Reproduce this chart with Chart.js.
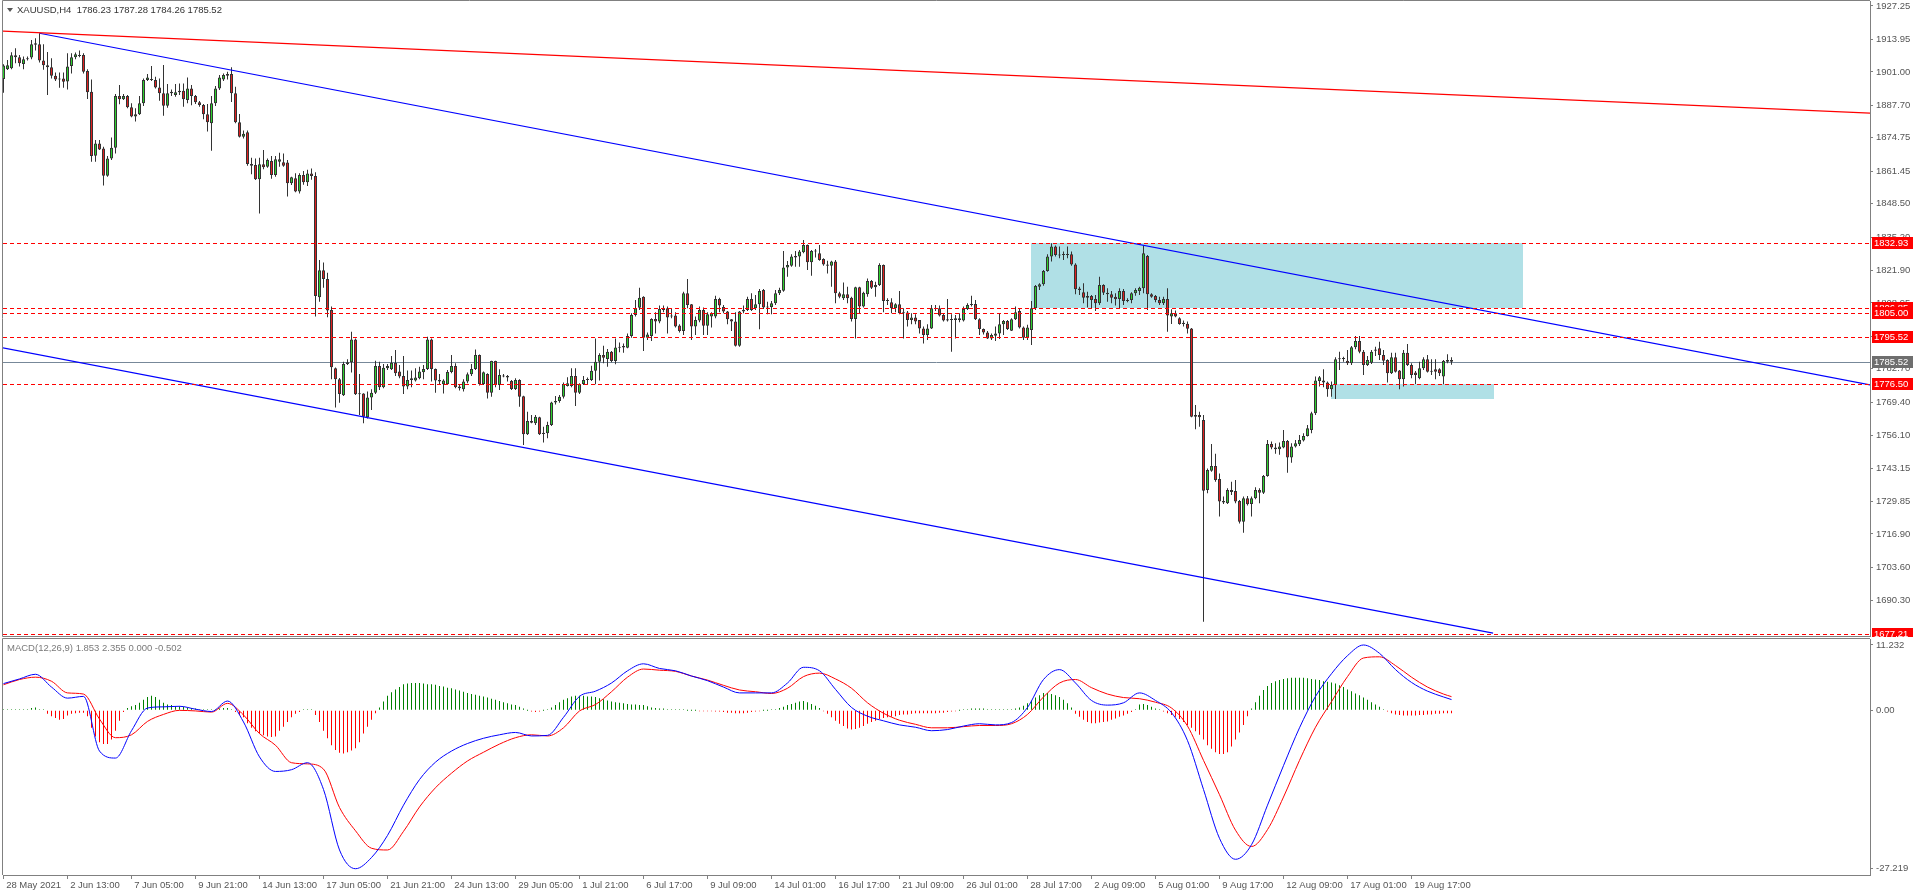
<!DOCTYPE html>
<html lang="en">
<head>
<meta charset="UTF-8">
<title>XAUUSD,H4</title>
<script src="https://cdn.jsdelivr.net/npm/chart.js"></script>
<style>
    body { margin: 0; background: #ffffff; width: 1916px; height: 896px; overflow: hidden; }
    canvas { position: absolute; left: 0; }
    #priceChart { top: 0; }
    #macdChart { top: 637px; }
</style>
</head>
<body>
<canvas id="priceChart" width="1916" height="637"></canvas>
<canvas id="macdChart" width="1916" height="259"></canvas>
<script>
// ---- data ----
const timeLabels = ['28 May 2021', '2 Jun 13:00', '7 Jun 05:00', '9 Jun 21:00', '14 Jun 13:00', '17 Jun 05:00',
    '21 Jun 21:00', '24 Jun 13:00', '29 Jun 05:00', '1 Jul 21:00', '6 Jul 17:00', '9 Jul 09:00', '14 Jul 01:00',
    '16 Jul 17:00', '21 Jul 09:00', '26 Jul 01:00', '28 Jul 17:00', '2 Aug 09:00', '5 Aug 01:00', '9 Aug 17:00',
    '12 Aug 09:00', '17 Aug 01:00', '19 Aug 17:00'];
const labelEvery = 16; // bars between time labels

const priceTicks = [1927.25, 1913.95, 1901.00, 1887.70, 1874.75, 1861.45, 1848.50, 1835.20, 1821.90, 1808.95,
    1795.65, 1782.70, 1769.40, 1756.10, 1743.15, 1729.85, 1716.90, 1703.60, 1690.30];
const macdTicks = [11.232, 0, -27.219];

// H4 candles: [open, high, low, close]
const ohlc = [
    [1898.2,1904.0,1892.7,1903.5],[1902.0,1905.7,1901.7,1903.6],[1902.4,1908.8,1902.0,1907.6],[1907.6,1910.4,1904.4,1906.8],[1906.8,1907.7,1903.1,1904.4],[1904.1,1907.1,1902.0,1906.0],
    [1906.0,1907.1,1905.5,1906.4],[1906.7,1913.7,1906.0,1912.0],[1911.8,1914.4,1909.5,1912.4],[1912.0,1916.4,1904.7,1905.5],[1905.5,1912.0,1901.8,1903.6],[1903.6,1908.9,1891.8,1902.8],
    [1902.8,1906.4,1898.4,1899.5],[1899.5,1900.8,1897.4,1898.0],[1898.0,1900.8,1894.7,1898.4],[1898.4,1900.8,1894.7,1897.1],[1897.2,1908.4,1894.0,1903.1],[1903.3,1908.4,1900.4,1906.8],
    [1906.8,1908.7,1906.0,1908.0],[1907.3,1909.5,1906.8,1907.7],[1907.7,1908.4,1900.4,1901.1],[1901.4,1902.0,1890.2,1892.9],[1893.1,1898.0,1865.2,1867.5],[1867.6,1873.9,1865.2,1872.5],
    [1872.5,1873.9,1869.9,1870.1],[1870.5,1871.2,1855.7,1859.6],[1859.6,1867.5,1859.2,1866.5],[1866.5,1874.9,1865.9,1870.8],[1870.8,1892.2,1868.5,1891.4],[1891.4,1895.8,1888.1,1890.1],
    [1890.1,1892.2,1889.8,1891.4],[1891.4,1891.8,1886.5,1886.9],[1886.9,1888.5,1882.9,1883.2],[1883.2,1886.5,1881.2,1884.1],[1884.1,1891.4,1883.8,1888.5],[1888.5,1898.4,1887.4,1897.8],
    [1897.8,1900.2,1897.4,1898.8],[1898.0,1903.3,1897.4,1897.8],[1897.8,1899.1,1894.4,1894.8],[1894.8,1898.4,1889.5,1892.5],[1892.5,1903.7,1883.5,1887.5],[1887.5,1896.2,1886.7,1892.5],
    [1892.5,1894.0,1891.4,1893.1],[1891.8,1896.2,1891.1,1892.9],[1892.9,1896.4,1891.8,1893.5],[1893.5,1896.4,1887.1,1890.1],[1889.8,1898.8,1888.5,1894.4],[1894.4,1895.8,1887.7,1891.4],
    [1891.4,1891.8,1888.2,1888.9],[1888.9,1889.4,1887.1,1887.8],[1887.8,1888.2,1882.1,1884.1],[1884.1,1888.2,1877.2,1880.9],[1880.5,1891.4,1869.6,1888.5],[1888.5,1895.4,1887.4,1894.4],
    [1894.4,1899.8,1893.8,1898.8],[1898.0,1900.4,1897.4,1899.8],[1899.5,1901.1,1898.0,1900.2],[1900.2,1902.8,1889.0,1892.5],[1892.5,1895.1,1880.5,1880.9],[1880.9,1884.2,1874.9,1875.2],
    [1875.2,1877.6,1874.5,1876.3],[1876.9,1877.6,1863.6,1864.3],[1864.3,1866.8,1860.2,1863.6],[1863.9,1866.5,1857.9,1858.2],[1858.2,1866.8,1844.6,1864.2],[1864.2,1869.9,1862.2,1863.0],
    [1863.2,1866.5,1862.8,1865.9],[1865.5,1867.5,1858.4,1859.9],[1859.9,1867.5,1859.2,1866.2],[1865.2,1868.8,1863.2,1866.2],[1865.0,1868.5,1863.2,1863.6],[1864.9,1865.9,1851.3,1856.6],
    [1856.6,1859.2,1855.9,1859.0],[1858.6,1860.6,1853.0,1853.3],[1853.3,1860.6,1852.5,1859.9],[1859.9,1861.5,1856.0,1857.0],[1857.0,1862.0,1855.5,1860.5],[1860.5,1862.5,1858.0,1859.5],
    [1859.5,1861.0,1803.5,1811.7],[1811.2,1826.0,1809.4,1822.0],[1822.0,1825.0,1815.0,1818.5],[1818.5,1821.0,1803.2,1805.9],[1806.1,1807.5,1778.5,1783.3],[1782.9,1783.2,1767.3,1778.5],
    [1778.5,1779.0,1769.2,1772.7],[1772.2,1785.5,1771.9,1784.6],[1784.6,1786.5,1784.2,1785.3],[1785.3,1797.5,1781.2,1794.4],[1794.4,1794.8,1772.3,1772.6],[1772.6,1780.6,1764.3,1772.9],
    [1772.9,1773.0,1761.0,1763.6],[1763.4,1773.6,1762.9,1771.3],[1771.3,1774.5,1766.3,1773.2],[1773.2,1785.9,1772.7,1783.8],[1783.8,1785.5,1774.2,1775.3],[1775.3,1784.6,1774.9,1783.1],
    [1782.9,1784.6,1782.2,1783.8],[1782.5,1787.8,1782.2,1785.1],[1785.1,1790.2,1779.8,1780.9],[1781.6,1784.2,1778.9,1779.6],[1779.8,1787.8,1772.7,1775.6],[1775.6,1782.0,1774.5,1778.2],
    [1778.2,1782.0,1775.3,1778.9],[1778.0,1782.9,1777.6,1779.2],[1778.9,1783.5,1778.5,1781.6],[1781.3,1784.2,1778.5,1782.6],[1782.6,1795.5,1782.2,1794.4],[1794.4,1794.8,1777.6,1782.6],
    [1782.6,1782.8,1773.2,1778.0],[1778.2,1780.6,1776.6,1777.6],[1776.5,1778.5,1772.9,1778.0],[1776.5,1782.2,1776.2,1781.4],[1781.4,1788.2,1780.9,1783.8],[1783.8,1784.9,1774.9,1775.3],
    [1775.6,1776.6,1774.0,1774.9],[1774.5,1778.5,1773.6,1777.6],[1777.6,1781.2,1776.9,1780.5],[1780.5,1784.6,1779.8,1782.6],[1782.6,1790.4,1782.2,1788.2],[1788.2,1788.4,1776.0,1776.6],
    [1776.6,1781.6,1776.2,1781.3],[1780.6,1780.9,1770.9,1773.2],[1773.2,1785.9,1771.6,1785.8],[1785.8,1785.9,1775.3,1776.2],[1776.2,1782.5,1774.2,1780.2],[1780.0,1780.6,1779.3,1779.6],
    [1779.8,1780.2,1777.6,1779.2],[1777.8,1778.2,1774.2,1774.6],[1774.6,1778.9,1774.2,1778.2],[1778.2,1778.5,1767.6,1771.6],[1771.8,1772.0,1752.3,1756.6],[1756.6,1765.6,1756.3,1761.9],
    [1761.9,1764.3,1761.0,1761.2],[1761.0,1764.3,1760.3,1763.6],[1763.4,1763.6,1756.3,1756.6],[1757.2,1759.6,1753.3,1756.7],[1757.0,1761.6,1755.0,1760.3],[1760.3,1769.6,1759.9,1769.3],
    [1769.3,1771.9,1768.5,1769.9],[1769.9,1772.3,1769.2,1771.6],[1771.6,1777.2,1770.9,1776.6],[1775.8,1779.3,1775.6,1776.9],[1775.8,1782.9,1775.3,1779.8],[1779.8,1782.9,1767.9,1773.2],
    [1773.2,1776.9,1772.7,1776.6],[1776.6,1779.8,1776.2,1778.2],[1778.2,1779.2,1776.5,1778.5],[1778.2,1783.9,1777.8,1781.9],[1781.9,1794.8,1776.5,1785.5],[1785.5,1788.9,1778.0,1788.2],
    [1788.2,1791.9,1784.9,1787.1],[1786.6,1790.6,1783.5,1789.5],[1789.5,1789.8,1785.3,1785.8],[1785.8,1794.8,1784.5,1791.2],[1791.1,1793.2,1789.3,1791.4],[1791.2,1792.8,1789.1,1791.8],
    [1791.1,1796.8,1790.9,1795.8],[1795.8,1804.8,1795.1,1804.1],[1804.1,1810.1,1803.5,1806.8],[1807.0,1815.0,1806.1,1811.0],[1811.4,1811.6,1789.8,1795.1],[1795.1,1797.2,1794.2,1796.4],
    [1795.8,1802.8,1793.8,1802.5],[1802.5,1805.2,1796.8,1801.5],[1801.5,1807.9,1800.8,1806.5],[1806.1,1807.9,1805.2,1806.8],[1806.8,1807.5,1796.8,1803.1],[1803.5,1806.5,1802.8,1803.9],
    [1803.9,1805.2,1799.1,1799.5],[1799.9,1800.4,1797.2,1797.8],[1797.8,1813.4,1796.2,1812.8],[1812.8,1818.5,1806.8,1808.1],[1808.4,1808.5,1794.2,1799.5],[1799.5,1803.5,1796.2,1802.1],
    [1801.9,1807.5,1801.2,1806.1],[1806.1,1807.1,1796.2,1799.8],[1799.8,1805.2,1796.2,1804.4],[1803.5,1805.2,1799.1,1804.8],[1803.5,1811.8,1802.8,1810.5],[1810.5,1811.0,1805.2,1807.9],
    [1807.3,1808.1,1804.8,1805.5],[1805.5,1805.7,1800.4,1802.4],[1802.4,1802.5,1797.8,1801.5],[1801.5,1805.2,1791.6,1791.9],[1791.9,1805.7,1791.5,1805.5],[1805.5,1807.9,1804.8,1806.1],
    [1806.1,1811.4,1805.7,1810.5],[1810.5,1812.8,1805.7,1806.1],[1806.8,1812.1,1806.1,1808.4],[1808.4,1814.5,1798.5,1813.7],[1814.1,1814.5,1806.5,1807.1],[1807.1,1809.4,1804.4,1807.3],
    [1807.3,1809.7,1804.4,1808.8],[1808.8,1814.1,1808.1,1812.8],[1812.8,1815.0,1812.1,1814.1],[1813.8,1829.6,1813.4,1823.1],[1823.1,1825.6,1819.4,1824.1],[1823.8,1828.3,1823.4,1827.4],
    [1827.0,1829.6,1823.4,1827.6],[1827.4,1830.0,1823.4,1829.4],[1829.1,1834.0,1828.7,1832.0],[1832.0,1832.2,1822.1,1825.1],[1825.1,1830.0,1819.8,1829.6],[1829.6,1830.4,1827.0,1829.4],
    [1828.7,1832.0,1825.7,1826.0],[1826.4,1826.7,1823.8,1824.3],[1824.3,1825.7,1820.7,1823.8],[1823.8,1825.7,1815.4,1825.4],[1825.4,1826.0,1808.8,1812.8],[1812.8,1813.4,1810.8,1811.4],
    [1810.8,1817.1,1810.1,1812.4],[1812.4,1815.4,1808.8,1810.8],[1811.0,1811.4,1801.5,1802.5],[1802.5,1815.4,1794.8,1815.2],[1815.2,1815.4,1804.8,1807.5],[1807.5,1813.4,1807.1,1813.0],
    [1812.4,1818.7,1811.4,1817.7],[1817.7,1818.1,1814.5,1815.0],[1815.2,1817.4,1811.4,1816.1],[1816.1,1824.7,1815.7,1824.1],[1824.1,1824.3,1805.2,1809.7],[1809.7,1810.8,1808.1,1810.1],
    [1809.2,1810.8,1804.8,1806.8],[1806.8,1808.8,1805.2,1808.4],[1808.4,1813.7,1804.4,1804.8],[1805.1,1806.8,1794.8,1804.8],[1805.1,1805.7,1799.5,1802.1],[1802.1,1804.8,1800.4,1803.1],
    [1803.1,1804.4,1800.4,1801.5],[1802.1,1802.1,1796.8,1798.8],[1798.8,1799.5,1792.8,1796.2],[1796.2,1800.4,1794.2,1798.8],[1798.8,1808.1,1798.6,1806.8],[1806.8,1808.1,1805.7,1806.5],
    [1806.8,1807.9,1803.5,1803.9],[1804.1,1804.8,1801.5,1801.9],[1802.4,1810.5,1801.5,1801.9],[1802.1,1804.4,1789.5,1802.4],[1802.1,1804.1,1794.8,1802.8],[1802.8,1804.8,1801.2,1802.1],
    [1801.9,1807.5,1801.5,1806.5],[1806.5,1808.8,1806.1,1808.1],[1808.1,1811.8,1807.5,1808.5],[1808.5,1810.1,1802.1,1802.4],[1802.4,1802.8,1796.2,1798.6],[1798.6,1798.8,1796.4,1797.2],
    [1797.2,1797.8,1794.6,1794.8],[1794.8,1796.8,1794.2,1796.2],[1795.9,1799.5,1793.8,1796.8],[1796.8,1804.8,1794.6,1800.4],[1800.4,1802.1,1796.2,1801.7],[1801.7,1802.1,1798.2,1798.6],
    [1797.9,1802.8,1797.8,1802.4],[1802.4,1807.5,1802.1,1805.2],[1805.7,1806.8,1798.8,1799.1],[1799.1,1799.5,1794.2,1795.1],[1795.1,1800.2,1794.2,1799.1],[1798.2,1809.7,1792.2,1806.8],
    [1806.8,1816.1,1806.1,1815.7],[1815.4,1816.8,1814.1,1816.4],[1816.4,1822.1,1815.8,1821.7],[1821.7,1828.3,1821.4,1827.4],[1827.4,1832.7,1825.4,1831.4],[1831.4,1831.8,1827.4,1828.0],
    [1828.0,1831.4,1826.7,1827.8],[1828.4,1829.4,1826.0,1828.0],[1828.0,1831.4,1826.7,1828.3],[1828.3,1829.4,1823.8,1824.3],[1824.3,1824.7,1812.4,1814.4],[1814.7,1815.4,1812.1,1814.1],
    [1813.2,1816.8,1808.8,1811.0],[1811.7,1813.4,1807.1,1811.0],[1811.7,1812.1,1806.8,1810.1],[1810.5,1812.1,1805.7,1808.8],[1808.8,1819.4,1808.1,1816.1],[1816.1,1816.4,1812.1,1813.0],
    [1813.0,1814.8,1809.4,1812.4],[1812.4,1813.7,1808.8,1811.0],[1811.4,1812.8,1807.9,1810.4],[1810.5,1814.8,1806.8,1813.7],[1813.7,1814.5,1808.1,1809.7],[1809.7,1810.8,1809.2,1810.0],
    [1810.1,1813.2,1808.8,1812.8],[1812.8,1814.8,1811.8,1814.1],[1813.7,1815.4,1812.1,1815.0],[1814.8,1831.8,1812.8,1828.7],[1827.6,1828.0,1806.1,1812.4],[1812.4,1812.8,1811.0,1811.4],
    [1811.7,1812.1,1809.2,1810.1],[1810.1,1811.4,1808.1,1808.8],[1808.8,1811.4,1808.1,1810.5],[1810.5,1814.8,1797.5,1803.9],[1803.5,1806.4,1800.5,1804.8],[1804.8,1805.9,1803.2,1803.5],
    [1802.8,1803.2,1800.2,1800.5],[1800.5,1801.9,1799.5,1801.0],[1800.6,1801.5,1796.8,1798.7],[1798.8,1799.0,1763.4,1763.6],[1764.3,1768.3,1758.6,1763.6],[1764.3,1765.6,1759.6,1763.4],
    [1762.3,1764.3,1681.9,1734.1],[1734.4,1743.0,1733.1,1742.4],[1742.1,1752.7,1741.7,1744.0],[1744.0,1748.8,1737.7,1738.4],[1738.8,1741.0,1723.8,1729.8],[1730.0,1731.8,1728.8,1729.4],
    [1729.1,1735.1,1728.8,1734.4],[1734.4,1737.7,1732.4,1733.6],[1734.0,1738.4,1729.1,1729.8],[1730.0,1730.4,1721.1,1721.8],[1721.8,1731.8,1717.4,1731.1],[1731.1,1732.0,1728.2,1728.7],
    [1728.8,1731.8,1723.8,1731.1],[1731.1,1735.5,1730.7,1734.4],[1734.4,1735.1,1729.1,1733.3],[1733.3,1740.4,1732.8,1740.0],[1740.0,1754.3,1739.7,1752.7],[1752.7,1753.7,1750.6,1751.3],
    [1751.3,1753.0,1748.8,1750.6],[1750.6,1753.3,1748.4,1751.7],[1751.3,1758.3,1751.0,1753.9],[1753.9,1754.3,1741.3,1747.4],[1747.4,1753.0,1745.3,1751.7],[1751.7,1754.3,1751.3,1753.0],
    [1752.6,1756.3,1751.9,1754.3],[1754.1,1757.0,1753.7,1755.9],[1755.9,1760.3,1755.7,1759.0],[1758.3,1765.6,1757.0,1765.0],[1765.0,1779.6,1764.3,1778.0],[1777.8,1779.8,1775.6,1779.3],
    [1778.0,1782.5,1775.3,1777.2],[1777.2,1777.6,1771.6,1774.5],[1774.5,1777.6,1771.6,1776.2],[1776.2,1787.3,1770.7,1786.5],[1786.5,1789.5,1782.2,1786.9],[1786.9,1787.5,1785.5,1786.6],
    [1785.9,1790.2,1784.2,1784.9],[1784.9,1791.8,1784.2,1791.3],[1791.3,1795.8,1790.5,1793.8],[1793.8,1795.8,1788.9,1789.5],[1789.5,1790.2,1780.2,1784.2],[1784.2,1787.8,1783.8,1786.2],
    [1785.1,1790.2,1784.6,1789.5],[1789.9,1791.5,1787.8,1790.4],[1790.9,1793.5,1786.2,1788.2],[1788.2,1790.2,1784.2,1785.9],[1786.2,1786.5,1777.2,1780.9],[1780.9,1789.1,1780.6,1787.3],
    [1787.3,1789.1,1781.2,1781.5],[1782.0,1782.2,1774.5,1778.5],[1778.5,1790.2,1775.6,1789.1],[1789.1,1792.6,1783.8,1784.2],[1784.2,1784.9,1778.9,1780.2],[1781.2,1781.8,1776.6,1780.2],
    [1778.9,1785.5,1778.5,1782.9],[1782.9,1787.3,1782.2,1786.5],[1786.5,1788.2,1781.2,1781.5],[1781.5,1786.5,1780.2,1781.9],[1782.5,1786.5,1778.5,1781.5],[1782.5,1782.9,1779.8,1780.9],
    [1779.6,1786.2,1776.5,1785.8],[1785.5,1788.5,1784.9,1786.2],[1786.23,1787.28,1784.26,1785.52]
];

// horizontal levels (dashed red), bid line
const levels = [1832.93, 1806.85, 1805.00, 1795.52, 1776.50, 1677.21];
const bidPrice = 1785.52;
// trend lines: [bar1, price1, bar2, price2]
const redTrend = [-0.8, 1917.3, 466.7, 1884.6];
const channelTop = [9, 1916.4, 466.7, 1776.3];
const channelBottom = [-0.8, 1791.2, 372.4, 1677.4];
// supply / demand boxes: [barFrom, barTo, priceTop, priceBottom]
const zones = [[256.9, 379.9, 1832.93, 1806.85], [331.9, 372.7, 1776.50, 1770.6]];

// MACD(12,26,9): main and signal lines read every 4 bars, histogram read per bar
const lineIdx = [0,4,8,12,16,20,24,28,32,36,40,44,48,52,56,60,64,68,72,76,80,84,88,92,96,100,
    104,108,112,116,120,124,128,132,136,140,144,148,152,156,160,164,168,172,176,180,184,188,192,196,200,
    204,208,212,216,220,224,228,232,236,240,244,248,252,256,260,264,268,272,276,280,284,288,292,296,300,
    304,308,312,316,320,324,328,332,336,340,344,348,352,356,360,362];
const macdMain = [4.6,5.4,6.2,4.0,2.1,2.4,-7.0,-8.2,-3.5,0.4,0.6,0.7,0.2,-0.2,1.6,-2.0,-8.0,-10.5,-10.2,-9.0,
    -13.6,-24.0,-27.219,-25.3,-21.5,-16.3,-11.9,-8.9,-7.0,-5.7,-4.8,-4.2,-3.8,-4.4,-4.3,-1.2,2.4,3.3,4.7,6.8,
    8.0,7.2,6.8,5.9,5.1,4.0,3.0,3.0,3.0,4.7,7.4,6.8,3.6,0.5,-1.0,-1.8,-2.5,-2.9,-3.5,-3.3,
    -2.7,-2.3,-2.5,-2.1,0.5,5.3,7.0,4.7,1.7,0.9,1.3,3.0,1.7,-0.4,-5.2,-13.6,-22.0,-25.6,-23.1,-16.3,
    -9.5,-3.0,2.4,6.3,9.4,11.232,9.8,7.0,4.8,3.3,2.3,1.853];
const macdSignal = [4.4,5.3,5.7,5.0,3.0,2.8,-1.5,-4.7,-4.2,-1.9,-0.7,0.0,-0.1,-0.3,1.2,-0.8,-4.0,-6.0,-9.0,-9.2,
    -10.1,-16.7,-20.7,-23.7,-24.0,-20.8,-16.6,-13.3,-10.8,-8.7,-7.2,-5.8,-4.7,-4.2,-4.4,-3.0,-0.1,1.0,3.2,5.7,
    7.1,6.9,6.7,5.9,5.2,4.3,3.5,3.2,2.9,3.8,5.8,6.4,5.4,3.8,1.3,-0.5,-1.7,-2.4,-3.0,-3.0,
    -2.8,-2.6,-2.6,-2.3,-0.7,2.3,4.7,5.3,3.9,2.8,2.2,2.0,1.4,0.4,-2.7,-8.6,-14.5,-20.6,-23.4,-20.5,
    -14.9,-8.6,-2.9,1.5,5.8,9.0,9.2,7.7,5.7,4.0,2.8,2.355];
const macdHist = [
    0.2,0.1,0.1,0.1,0.1,0.1,0.2,0.4,0.5,0.2,0.1,
    -0.6,-1.0,-1.3,-1.6,-1.5,-0.9,-0.6,-0.5,-0.4,-0.4,
    -1.0,-3.0,-4.5,-5.5,-5.8,-5.8,-5.0,-3.5,-1.8,-0.3,
    0.4,0.7,0.9,1.3,1.8,2.3,2.5,2.3,1.8,1.3,
    1.0,0.9,0.7,0.7,0.6,0.5,0.4,0.3,0.2,0.1,
    0.1,0.1,0.2,0.3,0.4,0.4,0.2,-0.3,-0.8,-1.2,
    -2.2,-3.0,-3.6,-4.0,-4.3,-4.5,-4.6,-4.5,-3.5,-2.8,
    -2.0,-1.2,-0.6,-0.3,0.1,0.2,0.1,-0.8,-2.0,-3.5,
    -4.8,-6.0,-6.8,-7.3,-7.4,-7.2,-6.9,-6.5,-5.5,-4.0,
    -2.8,-1.6,-0.5,0.5,1.5,2.5,3.1,3.6,4.0,4.5,
    4.6,4.7,4.7,4.7,4.6,4.5,4.5,4.4,4.2,4.1,
    3.9,3.8,3.6,3.4,3.2,3.0,2.8,2.7,2.5,2.4,
    2.2,2.0,1.8,1.6,1.4,1.2,1.0,0.9,0.6,0.3,
    0.0,-0.2,-0.3,-0.2,0.0,0.1,0.5,0.9,1.4,1.8,
    2.1,2.4,2.5,2.5,2.5,2.4,2.4,2.3,2.1,1.9,
    1.7,1.5,1.4,1.3,1.2,1.1,1.0,1.0,0.9,0.9,
    0.7,0.5,0.4,0.3,0.3,0.2,0.2,0.1,0.1,0.1,
    0.0,0.0,0.0,-0.1,-0.1,-0.1,-0.1,-0.2,-0.2,-0.3,
    -0.4,-0.4,-0.5,-0.5,-0.5,-0.4,-0.3,-0.2,-0.1,0.0,
    0.0,0.1,0.2,0.4,0.6,0.9,1.1,1.3,1.5,1.6,
    1.4,1.1,0.8,0.4,-0.1,-0.6,-1.2,-1.8,-2.3,-2.7,
    -3.1,-3.3,-3.2,-3.0,-2.7,-2.3,-2.0,-1.8,-1.5,-1.3,
    -1.2,-1.1,-1.0,-0.8,-0.7,-0.7,-0.6,-0.5,-0.5,-0.5,
    -0.5,-0.5,-0.5,-0.4,-0.4,-0.3,-0.2,-0.1,0.0,0.1,
    0.2,0.3,0.3,0.3,0.3,0.2,0.1,0.1,0.1,0.1,
    0.1,0.2,0.3,0.5,0.8,1.2,1.7,2.2,2.6,3.0,
    3.0,2.8,2.6,2.3,1.8,1.2,0.5,-0.6,-1.1,-1.6,
    -2.0,-2.2,-2.2,-2.1,-2.0,-1.9,-1.6,-1.4,-1.1,-0.9,
    -0.6,-0.3,0.2,1.0,1.1,0.9,0.6,0.3,0.1,-0.2,
    -0.5,-0.8,-1.1,-1.5,-2.0,-2.5,-3.0,-3.6,-4.2,-5.0,
    -6.0,-6.6,-7.2,-7.5,-7.5,-7.2,-6.2,-5.0,-3.8,-2.5,
    -1.0,0.3,1.4,2.5,3.5,4.2,4.7,5.0,5.2,5.4,
    5.5,5.6,5.6,5.6,5.6,5.5,5.4,5.3,5.2,5.0,
    4.9,4.8,4.6,4.3,4.0,3.6,3.3,2.9,2.6,2.2,
    1.8,1.4,1.0,0.6,0.2,-0.2,-0.5,-0.7,-0.8,-0.9,
    -0.9,-0.9,-0.9,-0.8,-0.8,-0.7,-0.7,-0.6,-0.6,-0.5,-0.5,-0.502
];

// ---- chart setup ----
Chart.defaults.font.family = "'Liberation Sans', Arial, sans-serif";
Chart.defaults.font.size = 9.5;
Chart.defaults.color = '#555555';
Chart.defaults.animation = false;

const FRAME = '#808080';
const BULL = '#2ed02e', BEAR = '#e02020', OUTLINE = '#333333';
const X_MIN = -0.125, X_MAX = 466.625;

function trend(t) {
    return [{ x: t[0], y: t[1] }, { x: t[2], y: t[3] }];
}

// keep the axes from pushing the plot area inwards
function fixedWidth(s) {
    s.width = 46;
    s.paddingTop = 0;
    s.paddingBottom = 0;
}

const priceObjects = {
    id: 'priceObjects',
    beforeDatasetsDraw(chart) {
        const { ctx, chartArea: a, scales: { x, y } } = chart;
        ctx.save();
        ctx.beginPath();
        ctx.rect(a.left, a.top, a.right - a.left, a.bottom - a.top);
        ctx.clip();
        ctx.fillStyle = '#b0e0e6';
        zones.forEach(z => {
            const x1 = Math.round(x.getPixelForValue(z[0])), x2 = Math.round(x.getPixelForValue(z[1]));
            const y1 = Math.round(y.getPixelForValue(z[2])), y2 = Math.round(y.getPixelForValue(z[3]));
            ctx.fillRect(x1, y1, x2 - x1, y2 - y1);
        });
        const by = Math.round(y.getPixelForValue(bidPrice)) + 0.5;
        ctx.strokeStyle = '#778899';
        ctx.lineWidth = 1;
        ctx.beginPath();
        ctx.moveTo(a.left, by);
        ctx.lineTo(a.right, by);
        ctx.stroke();
        ctx.restore();
    },
    afterDatasetsDraw(chart) {
        const { ctx, chartArea: a, scales: { y } } = chart;
        ctx.save();
        ctx.strokeStyle = '#ff0000';
        ctx.lineWidth = 1;
        ctx.setLineDash([4, 3]);
        levels.forEach(p => {
            const py = Math.round(y.getPixelForValue(p)) + 0.5;
            ctx.beginPath();
            ctx.moveTo(a.left, py);
            ctx.lineTo(a.right, py);
            ctx.stroke();
        });
        ctx.restore();
    },
    afterDraw(chart) {
        const { ctx, chartArea: a, scales: { y } } = chart;
        ctx.save();
        // frame
        ctx.strokeStyle = FRAME;
        ctx.lineWidth = 1;
        ctx.beginPath();
        ctx.moveTo(a.right, a.top - 0.5);
        ctx.lineTo(a.left - 0.5, a.top - 0.5);
        ctx.lineTo(a.left - 0.5, a.bottom + 0.5);
        ctx.lineTo(a.right, a.bottom + 0.5);
        ctx.stroke();
        // price tags on the axis
        ctx.font = "9.5px 'Liberation Sans', Arial, sans-serif";
        ctx.textBaseline = 'middle';
        ctx.textAlign = 'left';
        const tags = levels.map(p => ({ p, bg: '#ff0000' }));
        tags.push({ p: bidPrice, bg: '#6e6e6e' });
        tags.sort((m, n) => (m.p === 1805.00 ? 1 : 0) - (n.p === 1805.00 ? 1 : 0));
        tags.forEach(t => {
            const py = Math.round(y.getPixelForValue(t.p));
            ctx.fillStyle = t.bg;
            ctx.fillRect(a.right + 2, py - 6, 41, 12);
            ctx.fillStyle = '#ffffff';
            ctx.fillText(t.p.toFixed(2), a.right + 4, py + 0.5);
        });
        // header
        ctx.fillStyle = '#555555';
        ctx.beginPath();
        ctx.moveTo(7, 8);
        ctx.lineTo(13, 8);
        ctx.lineTo(10, 12);
        ctx.closePath();
        ctx.fill();
        ctx.fillStyle = '#333333';
        ctx.fillText('XAUUSD,H4  1786.23 1787.28 1784.26 1785.52', 17, 10.5);
        ctx.restore();
    }
};

new Chart(document.getElementById('priceChart'), {
    type: 'bar',
    data: {
        datasets: [
            { type: 'line', data: trend(redTrend), borderColor: '#ff0000', borderWidth: 1.2, pointRadius: 0, order: 0 },
            { type: 'line', data: trend(channelTop), borderColor: '#0000ff', borderWidth: 1.2, pointRadius: 0, order: 0 },
            { type: 'line', data: trend(channelBottom), borderColor: '#0000ff', borderWidth: 1.2, pointRadius: 0, order: 0 },
            {
                data: ohlc.map((c, i) => ({ x: i, y: [c[0], c[3]] })),
                backgroundColor: ohlc.map(c => c[3] >= c[0] ? BULL : BEAR),
                borderColor: OUTLINE, borderWidth: 1, borderSkipped: false,
                barThickness: 3, grouped: false, minBarLength: 1, inflateAmount: 0, order: 2
            },
            {
                data: ohlc.map((c, i) => ({ x: i, y: [c[2], c[1]] })),
                backgroundColor: OUTLINE, borderWidth: 0,
                barThickness: 1, grouped: false, inflateAmount: 0, order: 3
            }
        ]
    },
    options: {
        responsive: false, devicePixelRatio: 1, animation: false,
        layout: { padding: { left: 3, top: 1, bottom: 1, right: 0 }, autoPadding: false },
        plugins: { legend: { display: false }, tooltip: { enabled: false } },
        scales: {
            x: { type: 'linear', min: X_MIN, max: X_MAX, offset: false, display: false, grid: { offset: false } },
            y: {
                position: 'right', min: 1676.229, max: 1929.242,
                afterBuildTicks: s => { s.ticks = priceTicks.map(v => ({ value: v })); },
                afterFit: fixedWidth,
                ticks: { callback: v => v.toFixed(2), padding: 3, autoSkip: false, color: '#555555' },
                grid: { drawOnChartArea: false, drawTicks: true, tickLength: 3, color: FRAME },
                border: { display: true, color: FRAME }
            }
        }
    },
    plugins: [priceObjects]
});

const macdDecor = {
    id: 'macdDecor',
    afterDraw(chart) {
        const { ctx, chartArea: a } = chart;
        ctx.save();
        ctx.strokeStyle = FRAME;
        ctx.lineWidth = 1;
        ctx.beginPath();
        ctx.moveTo(a.right, a.top - 0.5);
        ctx.lineTo(a.left - 0.5, a.top - 0.5);
        ctx.lineTo(a.left - 0.5, a.bottom);
        ctx.stroke();
        ctx.font = "9.5px 'Liberation Sans', Arial, sans-serif";
        ctx.textBaseline = 'middle';
        ctx.fillStyle = '#7a7a7a';
        ctx.fillText('MACD(12,26,9) 1.853 2.355 0.000 -0.502', 7, 11);
        ctx.restore();
    }
};

new Chart(document.getElementById('macdChart'), {
    type: 'bar',
    data: {
        datasets: [
            {
                type: 'line', data: lineIdx.map((ix, k) => ({ x: ix, y: macdSignal[k] })),
                borderColor: '#ff0000', borderWidth: 1, pointRadius: 0, cubicInterpolationMode: 'monotone', order: 1
            },
            {
                type: 'line', data: lineIdx.map((ix, k) => ({ x: ix, y: macdMain[k] })),
                borderColor: '#0000ff', borderWidth: 1, pointRadius: 0, cubicInterpolationMode: 'monotone', order: 0
            },
            {
                data: macdHist.map((v, i) => ({ x: i, y: v })),
                backgroundColor: macdHist.map(v => v >= 0 ? '#008000' : '#ff0000'),
                borderWidth: 0, barThickness: 1, grouped: false, inflateAmount: 0, minBarLength: 1, order: 2
            }
        ]
    },
    options: {
        responsive: false, devicePixelRatio: 1, animation: false,
        layout: { padding: { left: 3, top: 2, bottom: 0, right: 0 }, autoPadding: false },
        plugins: { legend: { display: false }, tooltip: { enabled: false } },
        scales: {
            x: {
                type: 'linear', min: X_MIN, max: X_MAX, offset: false, position: 'bottom',
                afterBuildTicks: s => { s.ticks = timeLabels.map((t, k) => ({ value: k * labelEvery })); },
                afterFit: s => { s.height = 21; s.paddingLeft = 0; s.paddingRight = 0; },
                ticks: {
                    callback: v => ' ' + timeLabels[Math.round(v / labelEvery)],
                    autoSkip: false, maxRotation: 0, align: 'start', padding: 1, color: '#555555'
                },
                grid: { drawOnChartArea: false, drawTicks: true, tickLength: 4, color: FRAME, offset: false },
                border: { display: true, color: FRAME }
            },
            y: {
                position: 'right', min: -28.300, max: 12.263,
                afterBuildTicks: s => { s.ticks = macdTicks.map(v => ({ value: v })); },
                afterFit: fixedWidth,
                ticks: { callback: v => v === 0 ? '0.00' : String(v), padding: 3, autoSkip: false, color: '#555555' },
                grid: { drawOnChartArea: false, drawTicks: true, tickLength: 3, color: FRAME },
                border: { display: true, color: FRAME }
            }
        }
    },
    plugins: [macdDecor]
});
</script>
</body>
</html>
